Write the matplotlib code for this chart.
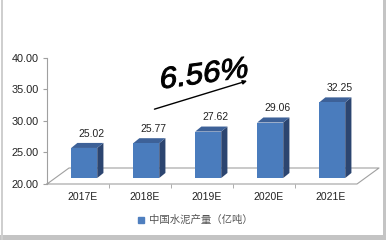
import matplotlib
matplotlib.use("Agg")
import matplotlib.pyplot as plt
from matplotlib.patches import Polygon, Rectangle
from matplotlib.lines import Line2D
from matplotlib.patheffects import AbstractPathEffect
from matplotlib.transforms import Affine2D

plt.rcParams['font.family'] = ['Liberation Sans', 'Noto Sans CJK SC', 'DejaVu Sans']

# 数据
years = ['2017E', '2018E', '2019E', '2020E', '2021E']
output = [25.02, 25.77, 27.62, 29.06, 32.25]
growth_label = '6.56%'
legend_label = '中国水泥产量（亿吨）'

front_c = '#4a7cbd'
side_c = '#2c4570'
top_c = '#3d6198'


class Slant(AbstractPathEffect):
    # 没有斜体字体时, 把文字斜切一下, 顺便描一点边加粗
    def __init__(self, deg=12, lw=0.0):
        super().__init__()
        self.deg = deg
        self.lw = lw

    def draw_path(self, renderer, gc, tpath, affine, rgbFace=None):
        m = affine.get_matrix()
        cx, cy = m[0, 2], m[1, 2]
        sk = Affine2D().translate(-cx, -cy).skew_deg(self.deg, 0).translate(cx, cy)
        gc0 = renderer.new_gc()
        gc0.copy_properties(gc)
        gc0.set_linewidth(self.lw)
        gc0.set_foreground(rgbFace if rgbFace is not None else 'black')
        renderer.draw_path(gc0, tpath, affine + sk, rgbFace)
        gc0.restore()


fig = plt.figure(figsize=(3.86, 2.4), dpi=100)
W, H = 386.0, 240.0
ax = fig.add_axes([47 / W, 56 / H, 332 / W, 126 / H])

depth_x = 22 / 62.0
depth_y = 16 / 6.3
ax.set_xlim(-0.5, 4.5 + depth_x)
ax.set_ylim(20, 40)

# 底面
floor = [(-0.5, 20), (4.5, 20), (4.5 + depth_x, 20 + depth_y), (-0.5 + depth_x, 20 + depth_y), (-0.5, 20)]
ax.plot([p[0] for p in floor], [p[1] for p in floor], color='#a0a0a0', lw=0.8, zorder=1, clip_on=False)

# 3D 柱子
bw = 0.42
dx, dy = 0.1, 0.8
base = 20.95
for i, v in enumerate(output):
    x0 = i + 0.1 - bw / 2
    x1 = x0 + bw
    top = v + 0.7
    ax.add_patch(Polygon([(x1, base), (x1 + dx, base + dy), (x1 + dx, top + dy), (x1, top)],
                         closed=True, fc=side_c, ec='none', zorder=3, clip_on=False))
    ax.add_patch(Polygon([(x0, top), (x1, top), (x1 + dx, top + dy), (x0 + dx, top + dy)],
                         closed=True, fc=top_c, ec='none', zorder=3, clip_on=False))
    ax.add_patch(Rectangle((x0, base), bw, top - base, fc=front_c, ec='none', zorder=4, clip_on=False))
    ax.text(i + 0.22, v + 2.95, f'{v:.2f}', ha='center', va='center', fontsize=7.5, color='#222222')

# 坐标轴
for s in ['top', 'right', 'bottom']:
    ax.spines[s].set_visible(False)
ax.spines['left'].set_color('#a0a0a0')
ax.spines['left'].set_linewidth(0.8)
ax.set_yticks([20, 25, 30, 35, 40])
ax.set_yticklabels([f'{t:.2f}' for t in [20, 25, 30, 35, 40]])
ax.tick_params(axis='y', length=3, color='#a0a0a0', labelsize=7.8, labelcolor='#222222', pad=3)
ax.set_xticks([i + 0.07 for i in range(len(years))])
ax.set_xticklabels(years)
ax.set_xticks([i + 0.5 for i in range(len(years) - 1)], minor=True)
ax.tick_params(axis='x', which='major', length=0, labelsize=7.5, labelcolor='#222222', pad=6)
ax.tick_params(axis='x', which='minor', length=3, color='#a0a0a0')

# 增长率与箭头
ax.annotate('', xy=(2.77, 36.5), xytext=(1.19, 31.75),
            arrowprops=dict(arrowstyle='-|>', color='black', lw=1.0, mutation_scale=6),
            annotation_clip=False)
ax.text(1.98, 37.3, growth_label, ha='center', va='center', fontsize=22,
        rotation=8, color='black', clip_on=False, path_effects=[Slant(13, 0.7)])

# 图例
handle = Line2D([], [], marker='s', ls='none', color='#4f7fbf', markersize=4)
fig.legend([handle], [legend_label], loc='center', bbox_to_anchor=(0.505, 0.083),
           frameon=False, handlelength=0.8, handletextpad=0.3, fontsize=7.5, labelcolor='#555555')

# 外框
fig.patches.append(Rectangle((0, 0), 1, 5 / H, transform=fig.transFigure, fc='#c4c4c4', ec='none'))
fig.patches.append(Rectangle((383 / W, 0), 3 / W, 1, transform=fig.transFigure, fc='#c4c4c4', ec='none'))
fig.patches.append(Rectangle((1 / W, 0), 1.5 / W, 1, transform=fig.transFigure, fc='#cfcfcf', ec='none'))

fig.savefig('out.png', dpi=100)
